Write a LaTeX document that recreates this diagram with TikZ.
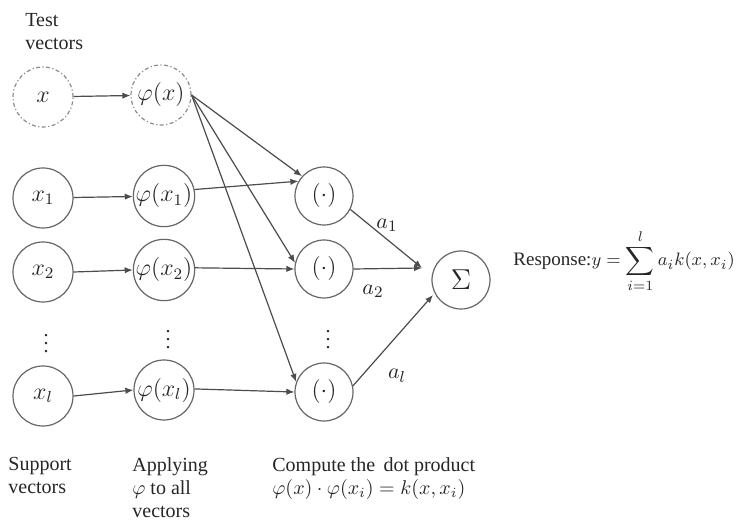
\documentclass[tikz,border=0pt]{standalone}
\usepackage{fontspec}
\setmainfont{Liberation Serif}
\usetikzlibrary{arrows.meta}

\begin{document}
\begin{tikzpicture}[
    x=0.5pt, y=-0.5pt,
    every node/.style={text=black!85, font=\fontsize{10}{11.5}\selectfont},
    unit/.style={draw=black!60, line width=0.6pt, circle, minimum size=30pt, inner sep=0pt, font=\fontsize{12}{14}\selectfont},
    test/.style={unit, draw=black!45, dash pattern=on 2pt off 1.2pt on 0.6pt off 1.2pt},
    dotp/.style={unit, minimum size=29pt},
    link/.style={draw=black!70, line width=0.6pt, -{Latex[length=4pt,width=3.2pt]}},
    weight/.style={font=\fontsize{11}{13}\selectfont},
    caption/.style={anchor=north west, align=left, inner sep=0pt},
    gap/.style={inner sep=0pt},
]
    \useasboundingbox (0,0) rectangle (747,522);

    \node[caption] (testcap) at (25,13) {Test\\vectors};

    \node[test] (x) at (43,97) {$x$};
    \node[test] (px) at (161,95) {$\varphi(x)$};

    \node[unit] (x1) at (43,198) {$x_1$};
    \node[unit] (px1) at (164,196) {$\varphi(x_1)$};
    \node[unit] (x2) at (43,272) {$x_2$};
    \node[unit] (px2) at (164,270) {$\varphi(x_2)$};
    \node[gap] (xdots) at (46,338) {$\vdots$};
    \node[gap] (pdots) at (168,334) {$\vdots$};
    \node[unit] (xl) at (43,396) {$x_l$};
    \node[unit] (pxl) at (164,390) {$\varphi(x_l)$};

    \node[dotp] (d1) at (324,196) {$(\cdot)$};
    \node[dotp] (d2) at (324,269) {$(\cdot)$};
    \node[gap] (ddots) at (328,334) {$\vdots$};
    \node[dotp] (dl) at (324,392) {$(\cdot)$};

    \node[unit, minimum size=29pt, font=\fontsize{15}{16}\selectfont] (sum) at (461,280) {$\Sigma$};
    \coordinate (in) at (422,268);
    \coordinate (inl) at (433,295);

    \draw[link] (x) -- (px);
    \draw[link] (x1) -- (px1);
    \draw[link] (x2.east) -- (px2.west);
    \draw[link] (xl.east) -- (pxl.west);

    \draw[link] (px.east) -- (d1.138);
    \draw[link] (px.east) -- (d2.168);
    \draw[link] (px.east) -- (dl.160);
    \draw[link] (px1.12) -- (d1.150);
    \draw[link] (px2.4) -- (d2.west);
    \draw[link] (pxl.2) -- (dl.west);

    \draw[link] (d1.-27) -- (in);
    \draw[link] (d2.east) -- (in);
    \draw[link] (dl.12) -- (inl);

    \node[weight] (a1) at (387,225) {$a_1$};
    \node[weight] (a2) at (373,291) {$a_2$};
    \node[weight] (al) at (397,376) {$a_l$};

    \node[anchor=base west, inner sep=0pt, font=\fontsize{9.5}{11}\selectfont] (resp) at (513,266)
        {Response:$y=\displaystyle\sum_{i=1}^{l}a_ik(x,x_i)$};

    \node[caption] (supcap) at (8,457) {Support\\vectors};
    \node[caption] (mapcap) at (132,457) {Applying\\$\varphi$ to all\\vectors};
    \node[caption] (dotcap) at (272,457) {Compute the\, dot product\\$\varphi(x)\cdot\varphi(x_i)=k(x,x_i)$};
\end{tikzpicture}
\end{document}
